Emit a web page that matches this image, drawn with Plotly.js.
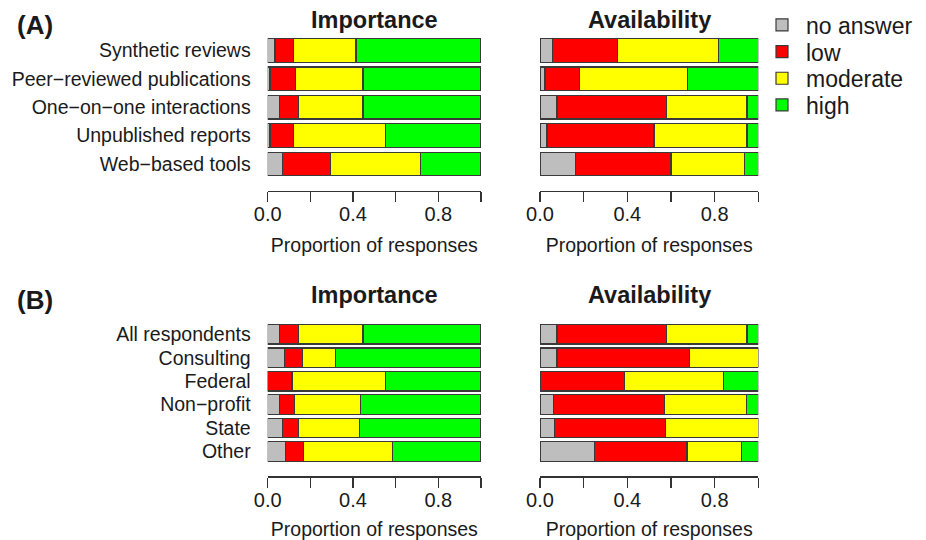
<!DOCTYPE html>
<html>
<head>
<meta charset="utf-8">
<script src="https://cdn.plot.ly/plotly-3.0.1.min.js"></script>
<style>html,body{margin:0;padding:0;background:#fff}#chart{width:926px;height:540px}</style>
</head>
<body>
<div id="chart"></div>
<script>
// ---- Data ----
var levels = ["no answer", "low", "moderate", "high"];
var levelColors = ["#BEBEBE", "#FF0000", "#FFFF00", "#00FF00"];

var sourcesA = ["Synthetic reviews", "Peer\u2212reviewed publications", "One\u2212on\u2212one interactions", "Unpublished reports", "Web\u2212based tools"];
// importance (A): per level, per source
var impA_noAnswer = [0.034, 0.011, 0.057, 0.011, 0.070];
var impA_low      = [0.086, 0.121, 0.088, 0.110, 0.224];
var impA_moderate = [0.294, 0.315, 0.302, 0.432, 0.424];
var impA_high     = [0.586, 0.553, 0.553, 0.447, 0.282];
// availability (A)
var avA_noAnswer = [0.057, 0.023, 0.078, 0.032, 0.161];
var avA_low      = [0.297, 0.157, 0.501, 0.490, 0.439];
var avA_moderate = [0.462, 0.496, 0.369, 0.426, 0.335];
var avA_high     = [0.184, 0.324, 0.052, 0.052, 0.065];

var groupsB = ["All respondents", "Consulting", "Federal", "Non\u2212profit", "State", "Other"];
// importance (B)
var impB_noAnswer = [0.057, 0.078, 0.000, 0.057, 0.070, 0.082];
var impB_low      = [0.088, 0.084, 0.114, 0.069, 0.075, 0.086];
var impB_moderate = [0.302, 0.156, 0.440, 0.310, 0.285, 0.416];
var impB_high     = [0.553, 0.682, 0.446, 0.564, 0.570, 0.416];
// availability (B)
var avB_noAnswer = [0.078, 0.078, 0.000, 0.060, 0.066, 0.249];
var avB_low      = [0.501, 0.606, 0.386, 0.510, 0.510, 0.424];
var avB_moderate = [0.369, 0.316, 0.454, 0.375, 0.424, 0.249];
var avB_high     = [0.052, 0.000, 0.160, 0.055, 0.000, 0.078];

var tickValues = [0, 0.2, 0.4, 0.6, 0.8, 1.0];
var tickLabels = ["0.0", "", "0.4", "", "0.8", ""];

var panelTitles = ["Importance", "Availability"];
var panelTags = ["(A)", "(B)"];
var axisTitleText = "Proportion of responses";

// ---- Build ----
var FONT = "Liberation Sans, Arial, Helvetica, sans-serif";
var TXT = "#1a1a1a";
var legendIds = ["legend", "legend2", "legend3", "legend4"];
var traces = [];
function addPanel(cats, series, xa, ya, showLeg) {
  for (var i = 0; i < levels.length; i++) {
    traces.push({
      type: "bar", orientation: "h",
      y: cats, x: series[i],
      name: levels[i], legendgroup: levels[i], showlegend: showLeg, legend: legendIds[i],
      marker: {color: levelColors[i], line: {color: "#3a3a3a", width: 1.2}},
      cliponaxis: false, hoverinfo: "x+y+name",
      xaxis: xa, yaxis: ya
    });
  }
}
addPanel(sourcesA, [impA_noAnswer, impA_low, impA_moderate, impA_high], "x", "y", true);
addPanel(sourcesA, [avA_noAnswer, avA_low, avA_moderate, avA_high], "x2", "y2", false);
addPanel(groupsB, [impB_noAnswer, impB_low, impB_moderate, impB_high], "x3", "y3", false);
addPanel(groupsB, [avB_noAnswer, avB_low, avB_moderate, avB_high], "x4", "y4", false);

var W = 926, H = 540;
function fx(px) { return px / W; }
function fy(py) { return 1 - py / H; }

var xImp = [fx(267.7), fx(481)];
var xAv = [fx(540), fx(758.3)];
var yA = [fy(191), fy(36.2)];
var yB = [fy(476.3), fy(322.6)];

function xaxisDef(dom, anchor, standoff) {
  return {
    domain: dom, anchor: anchor, range: [0, 1], fixedrange: true,
    showgrid: false, zeroline: false, showline: true, linecolor: "#333", linewidth: 1.2,
    ticks: "outside", ticklen: 10, tickwidth: 1.2, tickcolor: "#333",
    tickmode: "array", tickvals: tickValues, ticktext: tickLabels, ticklabelstandoff: -5,
    tickfont: {family: FONT, size: 20, color: TXT},
    title: {text: axisTitleText, font: {family: FONT, size: 19.5, color: TXT}, standoff: standoff}
  };
}
function yaxisDef(dom, anchor, rng, showLabels) {
  return {
    domain: dom, anchor: anchor, range: rng, type: "category", fixedrange: true,
    showgrid: false, zeroline: false, showline: false, ticks: "",
    showticklabels: showLabels, ticklabelstandoff: 16,
    tickfont: {family: FONT, size: 19.5, color: TXT}
  };
}

var annotations = [];
function addTitle(text, xdom, ypx) {
  annotations.push({text: "<b>" + text + "</b>", xref: "paper", yref: "paper",
    x: (xdom[0] + xdom[1]) / 2, y: fy(ypx), xanchor: "center", yanchor: "middle",
    showarrow: false, font: {family: FONT, size: 23.5, color: TXT}});
}
addTitle(panelTitles[0], xImp, 20);
addTitle(panelTitles[1], xAv, 20);
addTitle(panelTitles[0], xImp, 295);
addTitle(panelTitles[1], xAv, 295);
function addTag(text, ypx) {
  annotations.push({text: "<b>" + text + "</b>", xref: "paper", yref: "paper",
    x: fx(15), y: fy(ypx), xanchor: "left", yanchor: "middle",
    showarrow: false, font: {family: FONT, size: 26, color: TXT}});
}
addTag(panelTags[0], 25);
addTag(panelTags[1], 300);

function legendDef(ypx) {
  return {x: fx(758), y: fy(ypx), xanchor: "left", yanchor: "middle", itemwidth: 38,
    font: {family: FONT, size: 23, color: TXT}, bgcolor: "rgba(0,0,0,0)",
    itemclick: false, itemdoubleclick: false};
}

var layout = {
  width: W, height: H, margin: {l: 0, r: 0, t: 0, b: 0},
  paper_bgcolor: "#fff", plot_bgcolor: "#fff",
  barmode: "stack", bargap: 0.17,
  font: {family: FONT, color: TXT},
  xaxis: xaxisDef(xImp, "y", 14),
  xaxis2: xaxisDef(xAv, "y2", 14),
  xaxis3: xaxisDef(xImp, "y3", 23),
  xaxis4: xaxisDef(xAv, "y4", 23),
  yaxis: yaxisDef(yA, "x", [4.95, -0.5], true),
  yaxis2: yaxisDef(yA, "x2", [4.95, -0.5], false),
  yaxis3: yaxisDef(yB, "x3", [6.06, -0.5], true),
  yaxis4: yaxisDef(yB, "x4", [6.06, -0.5], false),
  showlegend: true,
  legend: legendDef(25),
  legend2: legendDef(51.7),
  legend3: legendDef(78.3),
  legend4: legendDef(105),
  annotations: annotations
};

Plotly.newPlot("chart", traces, layout, {displayModeBar: false, staticPlot: true});
</script>
</body>
</html>
